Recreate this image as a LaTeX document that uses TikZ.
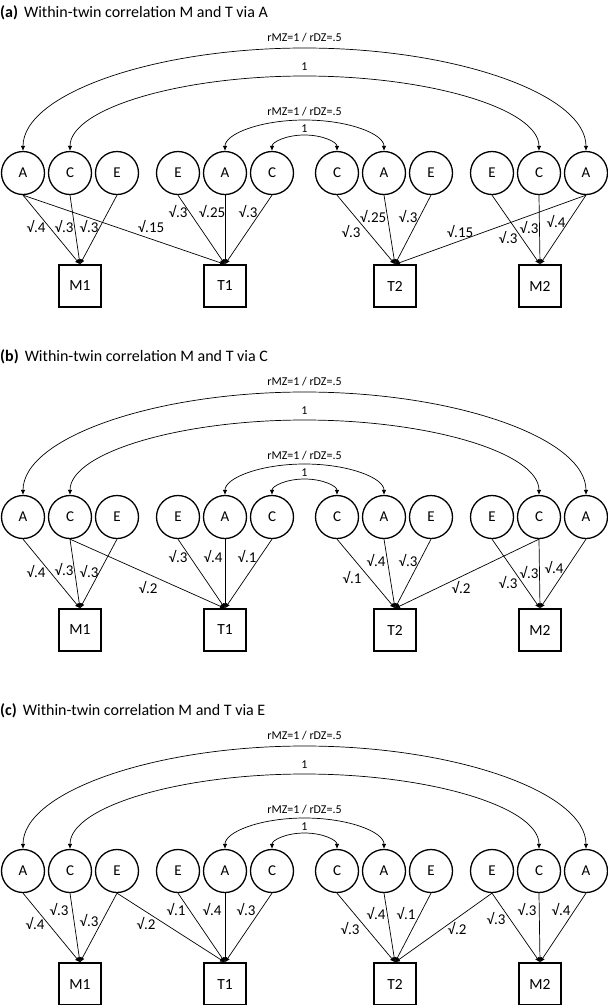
\documentclass[tikz,border=0pt]{standalone}
\usepackage{fontspec}
\setmainfont{Carlito}
\usetikzlibrary{arrows.meta}
\tikzset{
  lat/.style={circle,draw,line width=1.3pt,minimum size=43pt,inner sep=0pt,font=\fontsize{15}{15}\selectfont},
  obs/.style={rectangle,draw,line width=1.3pt,minimum size=42pt,inner sep=0pt,font=\fontsize{15.5}{15.5}\selectfont},
  load/.style={line width=0.7pt,-{Latex[length=5pt,width=4.5pt]}},
  cor/.style={line width=0.7pt,{Latex[length=5pt,width=4.5pt]}-{Latex[length=5pt,width=4.5pt]}},
  wl/.style={font=\fontsize{15}{15}\selectfont,inner sep=0pt},
  cl/.style={font=\fontsize{12}{12}\selectfont,inner sep=0pt},
  ttl/.style={font=\fontsize{16}{16}\selectfont,inner sep=0pt,anchor=base west}
}
\newcommand{\twinpanel}[4]{%
  \node[ttl] (#1-title) at (0,17) {\textbf{(#3)}\hspace{6pt}Within-twin correlation M and T via #4};
  \node[lat] (#1-A1) at (23,173) {A};
  \node[lat] (#1-C1) at (70,173) {C};
  \node[lat] (#1-E1) at (117,173) {E};
  \node[lat] (#1-E2) at (178,173) {E};
  \node[lat] (#1-A2) at (225,173) {A};
  \node[lat] (#1-C2) at (272,173) {C};
  \node[lat] (#1-C3) at (337,173) {C};
  \node[lat] (#1-A3) at (384,173) {A};
  \node[lat] (#1-E3) at (431,173) {E};
  \node[lat] (#1-E4) at (492,173) {E};
  \node[lat] (#1-C4) at (539,173) {C};
  \node[lat] (#1-A4) at (586,173) {A};
  \node[obs] (#1-M1) at (80,286) {M1};
  \node[obs] (#1-T1) at (225,286) {T1};
  \node[obs] (#1-T2) at (395,286) {T2};
  \node[obs] (#1-M2) at (540,286) {M2};
  \draw[cor] (#1-A1.north) .. controls +(0,-57) and +(-150,0) .. (304.5,48) .. controls +(150,0) and +(0,-57) .. (#1-A4.north);
  \draw[cor] (#1-C1.north) .. controls +(0,-42) and +(-125,0) .. (304.5,76) .. controls +(125,0) and +(0,-42) .. (#1-C4.north);
  \draw[cor] (#1-A2.north) .. controls +(0,-17) and +(-44,0) .. (304.5,120) .. controls +(44,0) and +(0,-17) .. (#1-A3.north);
  \draw[cor] (#1-C2.north) .. controls +(0,-9) and +(-18,0) .. (304.5,135) .. controls +(18,0) and +(0,-9) .. (#1-C3.north);
  \node[cl] (#1-r1) at (304.5,38) {rMZ=1 / rDZ=.5};
  \node[cl] (#1-o1) at (304.5,67) {1};
  \node[cl] (#1-r2) at (304.5,112) {rMZ=1 / rDZ=.5};
  \node[cl] (#1-o2) at (304.5,129) {1};
  \draw[load] (#1-A1.south) -- (#1-M1.north);
  \draw[load] (#1-C1.south) -- (#1-M1.north);
  \draw[load] (#1-E1.south) -- (#1-M1.north);
  \draw[load] (#1-E2.south) -- (#1-T1.north);
  \draw[load] (#1-A2.south) -- (#1-T1.north);
  \draw[load] (#1-C2.south) -- (#1-T1.north);
  \draw[load] (#1-C3.south) -- (#1-T2.north);
  \draw[load] (#1-A3.south) -- (#1-T2.north);
  \draw[load] (#1-E3.south) -- (#1-T2.north);
  \draw[load] (#1-E4.south) -- (#1-M2.north);
  \draw[load] (#1-C4.south) -- (#1-M2.north);
  \draw[load] (#1-A4.south) -- (#1-M2.north);
  \draw[load] (#1-#21.south) -- (#1-T1.north);
  \draw[load] (#1-#24.south) -- (#1-T2.north);
}
\begin{document}
\begin{tikzpicture}[x=1pt,y=-1pt]
\useasboundingbox (0,0) rectangle (608,1005);
% panel (a)
\begin{scope}
\twinpanel{a}{A}{a}{A}
\node[wl] (a-l1) at (36,227) {√.4};
\node[wl] (a-l2) at (64,227) {√.3};
\node[wl] (a-l3) at (89,227) {√.3};
\node[wl] (a-l4) at (151,227) {√.15};
\node[wl] (a-l5) at (178,212) {√.3};
\node[wl] (a-l6) at (212,212) {√.25};
\node[wl] (a-l7) at (248,212) {√.3};
\node[wl] (a-l8) at (351,232) {√.3};
\node[wl] (a-l9) at (373,217) {√.25};
\node[wl] (a-l10) at (408,217) {√.3};
\node[wl] (a-l11) at (460,232) {√.15};
\node[wl] (a-l12) at (508,238) {√.3};
\node[wl] (a-l13) at (529,228) {√.3};
\node[wl] (a-l14) at (556,222) {√.4};
\end{scope}
% panel (b)
\begin{scope}[shift={(0,344)}]
\twinpanel{b}{C}{b}{C}
\node[wl] (b-l1) at (36,227) {√.4};
\node[wl] (b-l2) at (64,225) {√.3};
\node[wl] (b-l3) at (89,227) {√.3};
\node[wl] (b-l4) at (148,243) {√.2};
\node[wl] (b-l5) at (178,212) {√.3};
\node[wl] (b-l6) at (213,212) {√.4};
\node[wl] (b-l7) at (247,212) {√.1};
\node[wl] (b-l8) at (352,233) {√.1};
\node[wl] (b-l9) at (376,216) {√.4};
\node[wl] (b-l10) at (408,216) {√.3};
\node[wl] (b-l11) at (461,243) {√.2};
\node[wl] (b-l12) at (508,238) {√.3};
\node[wl] (b-l13) at (529,228) {√.3};
\node[wl] (b-l14) at (554,223) {√.4};
\end{scope}
% panel (c)
\begin{scope}[shift={(0,698)}]
\twinpanel{c}{E}{c}{E}
\node[wl] (c-l1) at (35,225) {√.4};
\node[wl] (c-l2) at (59,211) {√.3};
\node[wl] (c-l3) at (89,222) {√.3};
\node[wl] (c-l4) at (146,225) {√.2};
\node[wl] (c-l5) at (176,211) {√.1};
\node[wl] (c-l6) at (212,211) {√.4};
\node[wl] (c-l7) at (246,211) {√.3};
\node[wl] (c-l8) at (350,230) {√.3};
\node[wl] (c-l9) at (376,215) {√.4};
\node[wl] (c-l10) at (406,215) {√.1};
\node[wl] (c-l11) at (457,230) {√.2};
\node[wl] (c-l12) at (496,220) {√.3};
\node[wl] (c-l13) at (527,211) {√.3};
\node[wl] (c-l14) at (561,211) {√.4};
\end{scope}
\end{tikzpicture}
\end{document}
